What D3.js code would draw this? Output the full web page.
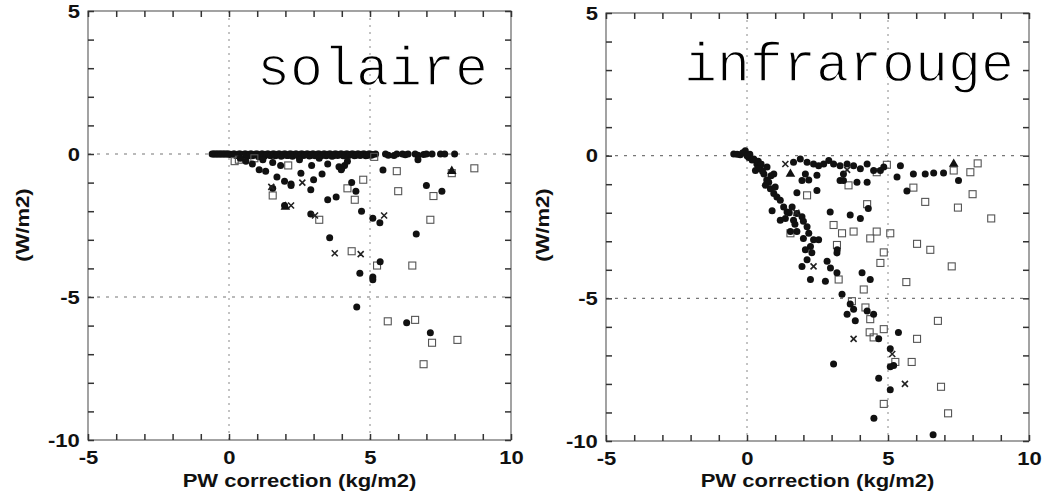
<!DOCTYPE html>
<html><head><meta charset="utf-8">
<script src="https://cdn.jsdelivr.net/npm/d3@7"></script>
<style>
html,body{margin:0;padding:0;background:#fff;}
svg{display:block;}
</style></head>
<body>
<svg id="chart" width="1044" height="498"></svg>
<script>
// ---------- data ----------
const panelTitles = ["solaire", "infrarouge"];
const xTicks = [-5, 0, 5, 10];
const yTicks = [5, 0, -5, -10];
const xMinorTicks = [-5,-4,-3,-2,-1,0,1,2,3,4,5,6,7,8,9,10];
const yMinorTicks = [-10,-9,-8,-7,-6,-5,-4,-3,-2,-1,0,1,2,3,4,5];
const xLabel = "PW correction (kg/m2)";
const yLabel = "(W/m2)";

// solaire: filled circles on / just below the zero line
const solZero = [[-0.6,0],[-0.55,0],[-0.5,0],[-0.45,0],[-0.4,0],[-0.35,0],[-0.3,0],[-0.25,0],[-0.2,0],[-0.15,0],[-0.1,0],[-0.05,0],
 [0,0],[0.05,-0.02],[0.1,-0.02],[0.15,0],[0.2,0],[0.25,-0.05],[0.3,-0.05],[0.35,0],[0.4,0],[0.45,-0.06],[0.5,-0.03],[0.55,0],
 [0.6,0],[0.65,-0.08],[0.7,-0.05],[0.75,0],[0.8,0],[0.85,-0.06],[0.9,-0.02],[0.95,0],[1.0,0],[1.05,-0.1],[1.1,-0.06],[1.15,0],
 [1.2,0],[1.25,-0.08],[1.3,-0.03],[1.35,0],[1.4,0],[1.45,-0.05],[1.5,-0.05],[1.55,0],[1.6,0],[1.65,-0.06],[1.7,-0.02],[1.75,0],
 [1.8,0],[1.85,-0.08],[1.9,-0.04],[1.95,0],[2.0,0],[2.05,-0.05],[2.1,-0.05],[2.15,0],[2.2,0],[2.25,-0.08],[2.3,-0.03],[2.35,0],
 [2.4,0],[2.45,-0.06],[2.5,-0.06],[2.55,0],[2.6,0],[2.65,-0.05],[2.7,-0.02],[2.75,0],[2.8,0],[2.85,-0.07],[2.9,-0.04],[2.95,0],
 [3.0,0],[3.05,-0.06],[3.1,-0.03],[3.15,0],[3.2,0],[3.25,-0.05],[3.3,-0.05],[3.35,0],[3.4,0],[3.45,-0.06],[3.5,-0.02],[3.55,0],
 [3.6,0],[3.65,-0.08],[3.7,-0.06],[3.75,0],[3.8,0],[3.85,-0.05],[3.9,-0.03],[3.95,0],[4.0,0],[4.05,-0.06],[4.1,-0.05],[4.15,0],
 [4.2,0],[4.25,-0.05],[4.3,-0.02],[4.35,0],[4.4,0],[4.45,-0.06],[4.5,-0.04],[4.55,0],[4.6,0],[4.65,-0.05],[4.7,-0.03],[4.75,0],
 [4.8,0],[4.85,-0.06],[4.9,-0.05],[4.95,0],[5.0,0],[5.05,-0.04],[5.1,-0.02],[5.2,0],
 [5.55,0],[5.65,-0.04],[5.85,-0.05],[5.95,0],[6.15,0],[6.25,-0.03],[6.35,0],[6.6,0],[6.7,-0.04],[6.9,-0.02],[7.0,0],[7.2,0],[7.5,0],[7.65,0],[8.0,0]];
const solCircles = [[5.46,-0.56],[7.0,-1.1],[7.55,-1.3],[6.7,-0.2],[3.5,-1.6],[3.8,-1.5],[4.35,-1.0],[4.5,-1.3],[4.7,-2.0],
 [5.1,-2.25],[5.35,-2.4],[3.57,-2.93],[5.36,-3.77],[4.64,-4.17],[5.1,-4.3],[5.1,-4.4],[4.53,-5.35],[6.3,-5.9],[7.14,-6.25],
 [6.64,-2.8],[2.9,-2.1],[2.9,-1.25],[1.97,-1.8],[1.55,-1.2],[1.7,-0.8],[1.97,-0.95],[2.2,-1.05],[2.55,-0.67],[2.93,-0.4],
 [3.0,-0.9],[3.3,-0.7],[3.5,-0.35],[3.9,-0.45],[4.0,-0.5],[4.1,-0.4],[1.3,-0.6],[1.07,-0.55],[0.83,-0.35],[0.6,-0.25],
 [1.55,-0.3],[1.83,-0.4],[2.2,-1.1],[3.98,-0.55],[0.4,-0.15],[1.2,-0.2],[2.5,-0.2],[3.2,-0.15],[4.2,-0.25]];
const solSquares = [[4.35,-3.4],[5.25,-3.9],[6.6,-5.8],[5.63,-5.85],[7.2,-6.6],[8.1,-6.5],[6.9,-7.35],[6.5,-3.9],[7.14,-2.3],
 [7.25,-1.47],[6.0,-1.3],[5.95,-0.6],[7.9,-0.67],[8.7,-0.5],[4.76,-0.9],[4.46,-1.6],[4.2,-1.2],[3.2,-2.3],[1.55,-1.45],
 [0.2,-0.25],[2.1,-0.4],[5.15,-0.1],[0.35,-0.2],[0.9,-0.15]];
const solCrosses = [[5.5,-2.15],[3.75,-3.47],[4.67,-3.5],[3.05,-2.15],[2.2,-1.8],[1.5,-1.15],[2.6,-1.0]];
const solTriangles = [[2.0,-1.85],[7.9,-0.6]];

// infrarouge
const irCircles = [[-0.47,0.06],[-0.24,0.03],[-0.06,0.17],[0.06,-0.06],[0.24,-0.12],[0.35,-0.29],[0.47,-0.4],[0.3,-0.52],
 [0.71,-0.4],[0.6,-0.64],[0.95,-0.64],[0.77,-0.93],[0.65,-1.04],[0.83,-1.16],[0.95,-1.33],[1.06,-1.45],[1.18,-1.56],[1.3,-1.8],
 [0.89,-1.93],[1.42,-1.97],[1.6,-1.8],[1.77,-2.03],[1.95,-2.14],[1.18,-2.26],[1.36,-2.2],[1.65,-2.26],[2.0,-2.3],[2.13,-2.49],
 [1.54,-2.66],[1.77,-2.66],[2.19,-2.72],[2.36,-2.95],[2.54,-2.95],[2.25,-3.18],[2.07,-3.3],[2.3,-3.4],[2.13,-3.65],[1.95,-3.88],
 [2.25,-4.34],[2.78,-4.4],[2.84,-3.7],[2.96,-3.94],[3.19,-3.41],[3.2,-3.3],[3.19,-4.1],[3.37,-4.86],[3.66,-5.2],[3.78,-5.38],
 [3.55,-5.56],[3.84,-5.79],[4.08,-4.1],[4.37,-4.34],[4.49,-5.56],[4.26,-5.44],[4.67,-6.42],[5.08,-6.77],[5.08,-7.4],[5.2,-7.35],
 [5.37,-6.2],[4.67,-7.8],[5.08,-8.2],[4.5,-9.2],[6.6,-9.78],[3.07,-7.3],[2.95,-1.97],[3.66,-2.08],[4.02,-2.2],[4.3,-1.85],
 [1.77,-1.3],[1.95,-0.87],[2.19,-0.85],[2.48,-1.22],[3.3,-0.87],[3.9,-0.93],[4.26,-0.93],[5.67,-1.24],[7.5,-0.87],
 [1.65,-0.23],[1.89,-0.12],[2.13,-0.23],[2.36,-0.29],[2.54,-0.35],[2.72,-0.29],[2.9,-0.17],[3.07,-0.29],[3.3,-0.35],
 [3.55,-0.29],[3.78,-0.35],[4.02,-0.46],[4.26,-0.29],[4.49,-0.52],[4.73,-0.52],[4.85,-0.4],[5.44,-0.35],[5.32,-0.75],
 [5.9,-0.64],[6.32,-0.64],[6.62,-0.61],[6.97,-0.61],[2.07,-0.64],[2.48,-0.69],[3.42,-0.64],[3.42,-0.87],[0.1,0.05],[0.4,-0.2],
 [0.55,-0.55],[0.7,-0.85],[1.0,-1.1],[1.5,-2.0],[1.7,-2.4],[2.0,-2.9],[-0.35,0.05],[-0.15,0.1],[0.0,0.0],[0.18,-0.15],
 [0.5,-0.3],[0.85,-0.7],[0.4,-0.45]];
const irSquares = [[4.96,-0.32],[4.6,-0.58],[3.6,-1.04],[5.9,-1.12],[6.32,-1.62],[7.33,-0.52],[7.92,-0.58],[8.18,-0.27],
 [8.0,-1.35],[7.48,-1.82],[8.66,-2.2],[2.13,-1.39],[4.26,-1.7],[3.07,-2.43],[3.37,-2.72],[3.78,-2.66],[4.37,-2.9],[4.6,-2.66],
 [5.08,-2.72],[1.54,-2.72],[6.03,-3.09],[6.5,-3.3],[4.85,-3.39],[4.73,-3.76],[7.26,-3.88],[5.65,-4.43],[4.14,-4.69],
 [3.72,-5.1],[4.2,-5.32],[4.37,-5.73],[4.35,-6.19],[4.49,-6.37],[4.85,-6.08],[6.03,-6.42],[6.77,-5.79],[5.26,-7.23],
 [5.84,-7.23],[6.88,-8.1],[4.85,-8.7],[7.13,-9.03],[3.19,-3.13],[3.25,-4.34]];
const irCrosses = [[2.36,-3.88],[3.78,-6.42],[5.6,-8.0],[1.36,-0.29],[3.55,-0.5],[5.15,-6.95],[1.75,-2.0]];
const irTriangles = [[7.33,-0.29],[1.54,-0.64]];

// ---------- drawing ----------
const svg = d3.select("#chart");
const panels = [
  {title: panelTitles[0], x0: 88, x1: 511, y0: 11, y1: 440, titleX: 257, titleY: 85, ylabX: 29,
   zero: solZero, circles: solCircles, squares: solSquares, crosses: solCrosses, tris: solTriangles},
  {title: panelTitles[1], x0: 606, x1: 1029, y0: 13, y1: 441, titleX: 684, titleY: 81, ylabX: 549,
   zero: [], circles: irCircles, squares: irSquares, crosses: irCrosses, tris: irTriangles}
];

const fontBold = "Liberation Sans, Arial, Helvetica, sans-serif";
const SX = 1.16; // horizontal stretch of the bold labels

panels.forEach(p => {
  const x = d3.scaleLinear().domain([-5, 10]).range([p.x0, p.x1]);
  const y = d3.scaleLinear().domain([-10, 5]).range([p.y1, p.y0]);
  const g = svg.append("g");

  // dotted reference lines
  [0, 5].forEach(v => g.append("line").attr("x1", x(v)).attr("x2", x(v)).attr("y1", p.y0).attr("y2", p.y1)
     .attr("stroke", "#888").attr("stroke-width", 1).attr("stroke-dasharray", "2,5"));
  [0, -5].forEach(v => g.append("line").attr("x1", p.x0).attr("x2", p.x1).attr("y1", y(v)).attr("y2", y(v))
     .attr("stroke", "#777").attr("stroke-width", 1.2).attr("stroke-dasharray", "3,6"));

  // frame
  g.append("rect").attr("x", p.x0).attr("y", p.y0).attr("width", p.x1 - p.x0).attr("height", p.y1 - p.y0)
    .attr("fill", "none").attr("stroke", "#666").attr("stroke-width", 1.2);

  // inward ticks on all four sides (d3 axes, negative tick size -> inward)
  const tickAxes = [
    [d3.axisBottom(x).tickValues(xMinorTicks).tickSize(-6), `translate(0,${p.y1})`],
    [d3.axisTop(x).tickValues(xMinorTicks).tickSize(-6), `translate(0,${p.y0})`],
    [d3.axisLeft(y).tickValues(yMinorTicks).tickSize(-6), `translate(${p.x0},0)`],
    [d3.axisRight(y).tickValues(yMinorTicks).tickSize(-6), `translate(${p.x1},0)`]
  ];
  tickAxes.forEach(([axis, tr]) => {
    const a = g.append("g").attr("transform", tr).call(axis.tickFormat(""));
    a.select(".domain").remove();
    a.selectAll(".tick line").attr("stroke", "#333").attr("stroke-width", 1.5);
  });

  // tick labels via d3 axes
  const fmt = d => String(d);
  const xAxis = d3.axisBottom(x).tickValues(xTicks).tickSize(0).tickPadding(11).tickFormat(fmt);
  const ax = g.append("g").attr("transform", `translate(0,${p.y1})`).call(xAxis);
  const yAxis = d3.axisLeft(y).tickValues(yTicks).tickSize(0).tickPadding(7).tickFormat(fmt);
  const ay = g.append("g").attr("transform", `translate(${p.x0},0)`).call(yAxis);
  [ax, ay].forEach(a => {
    a.select(".domain").remove();
    a.selectAll("text").attr("font-family", fontBold).attr("font-weight", "bold").attr("font-size", 19)
      .attr("fill", "#111").attr("transform", `scale(${SX},1)`);
  });

  // axis titles
  g.append("text").attr("transform", `translate(${(p.x0 + p.x1) / 2},487) scale(${SX},1)`).attr("text-anchor", "middle")
    .attr("font-family", fontBold).attr("font-weight", "bold").attr("font-size", 19).attr("fill", "#111").text(xLabel);
  g.append("text").attr("transform", `translate(${p.ylabX},225) rotate(-90) scale(${SX},1)`).attr("text-anchor", "middle")
    .attr("font-family", fontBold).attr("font-weight", "bold").attr("font-size", 19).attr("fill", "#111").text(yLabel);

  // markers
  const pts = g.append("g");
  pts.selectAll("circle.z").data(p.zero).join("circle").attr("class", "z")
    .attr("cx", d => x(d[0])).attr("cy", d => y(d[1])).attr("r", 3.5).attr("fill", "#111");
  pts.selectAll("rect.sq").data(p.squares).join("rect").attr("class", "sq")
    .attr("x", d => x(d[0]) - 3.5).attr("y", d => y(d[1]) - 3.5).attr("width", 7).attr("height", 7)
    .attr("fill", "none").attr("stroke", "#555").attr("stroke-width", 1.1);
  pts.selectAll("circle.c").data(p.circles).join("circle").attr("class", "c")
    .attr("cx", d => x(d[0])).attr("cy", d => y(d[1])).attr("r", 3.5).attr("fill", "#111");
  pts.selectAll("path.x").data(p.crosses).join("path").attr("class", "x")
    .attr("d", d => { const cx = x(d[0]), cy = y(d[1]); return `M${cx-3},${cy-3}L${cx+3},${cy+3}M${cx-3},${cy+3}L${cx+3},${cy-3}`; })
    .attr("stroke", "#222").attr("stroke-width", 1.6);
  pts.selectAll("path.t").data(p.tris).join("path").attr("class", "t")
    .attr("d", d => d3.symbol(d3.symbolTriangle, 40)())
    .attr("transform", d => `translate(${x(d[0])},${y(d[1])})`).attr("fill", "#111");

  // panel title (thin Courier-like strokes: white outline erodes the heavy glyphs)
  g.append("text").attr("x", p.titleX).attr("y", p.titleY)
    .attr("font-family", "Liberation Mono, Courier New, monospace").attr("font-size", 55).attr("fill", "#000")
    .attr("stroke", "#fff").attr("stroke-width", 1.4)
    .text(p.title);
});
</script>
</body></html>
